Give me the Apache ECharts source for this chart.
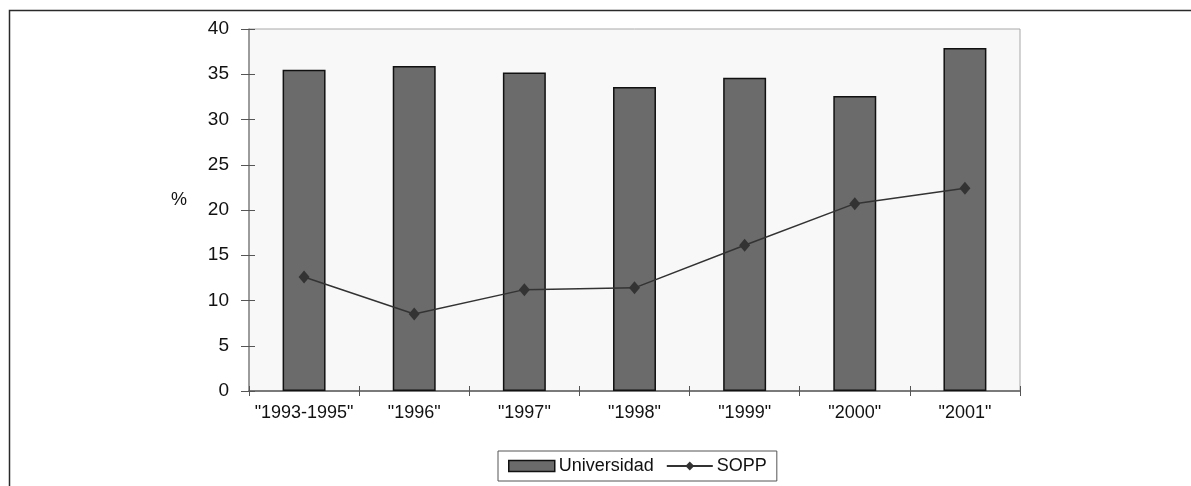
<!DOCTYPE html>
<html>
<head>
<meta charset="utf-8">
<script src="https://cdn.jsdelivr.net/npm/echarts@6/dist/echarts.min.js"></script>
<style>
  html, body { margin: 0; padding: 0; background: #ffffff; }
  #chart { width: 1191px; height: 486px; }
</style>
</head>
<body>
<div id="chart"></div>
<script>
// Categories (periods) and the two series, in percent
const categories = ['"1993-1995"', '"1996"', '"1997"', '"1998"', '"1999"', '"2000"', '"2001"'];
const universidad = [35.5, 35.9, 35.2, 33.6, 34.6, 32.6, 37.9];
const sopp = [12.6, 8.5, 11.2, 11.4, 16.1, 20.7, 22.4];
const yTicks = [0, 5, 10, 15, 20, 25, 30, 35, 40];

const FONT = '"Liberation Sans", Arial, sans-serif';
const chart = echarts.init(document.getElementById('chart'), null, { renderer: 'canvas' });

const gridBox = { left: 249, top: 29, width: 771, height: 362 };

chart.setOption({
  animation: false,
  backgroundColor: '#ffffff',
  textStyle: { fontFamily: FONT },
  graphic: [
    {
      // outer frame, open on the right and bottom
      type: 'rect',
      left: 7, top: 8,
      shape: { width: 1300, height: 600 },
      style: { fill: 'none', stroke: '#2a2a2a', lineWidth: 1.5 },
      silent: true,
      z: -10
    },
    {
      // value axis unit
      type: 'text',
      left: 171, top: 191,
      style: { text: '%', font: '18px ' + FONT, fill: '#111111' },
      silent: true
    }
  ],
  grid: Object.assign({ show: true, backgroundColor: '#f8f8f8', borderColor: '#a8a8a8', borderWidth: 1 }, gridBox),
  legend: {
    left: 498,
    top: 451,
    orient: 'horizontal',
    padding: [6, 10, 6, 10],
    itemGap: 12,
    itemWidth: 46,
    itemHeight: 11,
    borderColor: '#555555',
    borderWidth: 1,
    textStyle: { fontFamily: FONT, fontSize: 18, color: '#111111', padding: [0, 0, 0, -1] },
    data: [
      { name: 'Universidad', icon: 'rect', itemStyle: { color: '#6b6b6b', borderColor: '#111111', borderWidth: 1.5 } },
      { name: 'SOPP' }
    ]
  },
  xAxis: [
    {
      type: 'category',
      data: categories,
      boundaryGap: true,
      axisLine: { show: true, lineStyle: { color: '#7a7a7a', width: 2 } },
      axisTick: { show: true, inside: false, length: 5, lineStyle: { color: '#555555', width: 1 } },
      axisLabel: { fontFamily: FONT, fontSize: 18, color: '#111111', margin: 13, interval: 0 },
      splitLine: { show: false }
    },
    {
      // inner half of the crossing category ticks
      type: 'category',
      data: categories,
      position: 'bottom',
      boundaryGap: true,
      axisLine: { show: false },
      axisTick: { show: true, inside: true, length: 5, lineStyle: { color: '#555555', width: 1 } },
      axisLabel: { show: false },
      splitLine: { show: false }
    }
  ],
  yAxis: [
    {
      type: 'value',
      min: yTicks[0],
      max: yTicks[yTicks.length - 1],
      interval: 5,
      axisLine: { show: true, lineStyle: { color: '#8a8a8a', width: 1.5 } },
      axisTick: { show: true, inside: false, length: 8, lineStyle: { color: '#555555', width: 1 } },
      axisLabel: { fontFamily: FONT, fontSize: 19, color: '#111111', margin: 20 },
      splitLine: { show: false }
    },
    {
      // inner half of the crossing value ticks
      type: 'value',
      position: 'left',
      min: yTicks[0],
      max: yTicks[yTicks.length - 1],
      interval: 5,
      axisLine: { show: false },
      axisTick: { show: true, inside: true, length: 6, lineStyle: { color: '#555555', width: 1 } },
      axisLabel: { show: false },
      splitLine: { show: false }
    }
  ],
  series: [
    {
      name: 'Universidad',
      type: 'bar',
      data: universidad,
      barWidth: '39%',
      itemStyle: { color: '#6b6b6b', borderColor: '#111111', borderWidth: 1.5 },
      z: 2
    },
    {
      name: 'SOPP',
      type: 'line',
      data: sopp,
      symbol: 'diamond',
      symbolSize: [11, 13],
      lineStyle: { color: '#333333', width: 1.5 },
      itemStyle: { color: '#333333' },
      z: 3
    }
  ]
});
</script>
</body>
</html>
